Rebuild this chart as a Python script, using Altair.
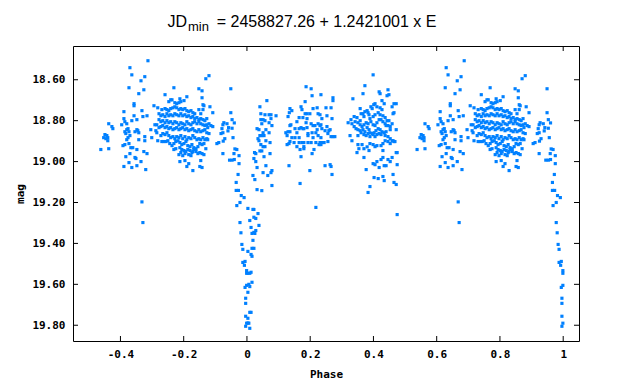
import altair as alt
import pandas as pd

# ---- text ----
title_jd = "JD"
title_sub = "min"
title_rest = "= 2458827.26 + 1.2421001 x E"
x_title = "Phase"
y_title = "mag"

# ---- axis ticks ----
x_ticks = [-0.4, -0.2, 0.0, 0.2, 0.4, 0.6, 0.8, 1.0]
y_ticks = [18.6, 18.8, 19.0, 19.2, 19.4, 19.6, 19.8]

# ---- data: (phase, mag), phase in [0, 1); phases >= 0.5 are also shown at phase-1 ----
egress = [(0.003,19.229),(0.019,19.234),(0.022,19.234),(0.035,19.254),(0.028,19.278),(0.022,19.272),
          (0.009,19.288),(0.038,19.312),(0.013,19.322),(0.028,19.337),(0.022,19.346),(0.016,19.351),
          (0.025,19.351),(0.019,19.385),(0.016,19.424),(0.022,19.424),(0.003,19.439),(0.013,19.454),
          (0.016,19.463),(0.003,19.546),(0.009,19.546),(0.013,19.541),(0.016,19.590),(0.006,19.600),
          (0.009,19.611),(0.003,19.639),(0.009,19.737),(0.013,19.737),(0.003,19.766),(0.003,19.789),
          (0.006,19.790),(0.009,19.815)]

rise = [(0.041,18.732),(0.063,18.702),(0.044,18.766),(0.057,18.771),(0.070,18.771),(0.076,18.771),
        (0.092,18.776),(0.051,18.795),(0.044,18.795),(0.057,18.800),(0.076,18.790),(0.047,18.815),
        (0.070,18.810),(0.079,18.824),(0.032,18.839),(0.038,18.844),(0.060,18.844),(0.051,18.859),
        (0.070,18.859),(0.041,18.873),(0.047,18.873),(0.054,18.873),(0.035,18.888),(0.038,18.898),
        (0.060,18.898),(0.073,18.907),(0.044,18.917),(0.051,18.927),(0.057,18.927),(0.041,18.948),
        (0.047,18.948),(0.024,18.956),(0.028,18.961),(0.073,18.961),(0.022,18.985),(0.054,18.976),
        (0.028,19.000),(0.060,19.020),(0.032,19.029),(0.051,19.054),(0.079,19.044),(0.076,19.054),
        (0.066,19.068),(0.019,19.068),(0.025,19.088),(0.079,19.117),(0.032,19.137),(0.047,19.142)]

plateau = [(0.187,18.634),(0.203,18.644),(0.234,18.673),(0.206,18.678),(0.272,18.688),(0.272,18.702),
           (0.184,18.707),(0.171,18.732),(0.174,18.746),(0.209,18.741),(0.222,18.737),(0.250,18.737),
           (0.266,18.737),(0.136,18.741),(0.142,18.751),(0.134,18.761),(0.184,18.766),(0.190,18.766),
           (0.199,18.766),(0.225,18.766),(0.231,18.771),(0.253,18.776),(0.130,18.780),(0.165,18.785),
           (0.177,18.785),(0.190,18.790),(0.237,18.790),(0.269,18.790),(0.158,18.805),(0.187,18.810),
           (0.203,18.815),(0.209,18.824),(0.215,18.824),(0.225,18.815),(0.231,18.824),(0.234,18.820),
           (0.253,18.829),(0.139,18.820),(0.136,18.824),(0.171,18.834),(0.177,18.839),(0.190,18.834),
           (0.152,18.839),(0.165,18.839),(0.180,18.839),(0.237,18.839),(0.222,18.844),(0.263,18.844),
           (0.247,18.849),(0.259,18.849),(0.123,18.859),(0.130,18.854),(0.136,18.854),(0.158,18.859),
           (0.193,18.863),(0.206,18.859),(0.218,18.859),(0.256,18.863),(0.266,18.878),(0.272,18.878),
           (0.278,18.878),(0.127,18.873),(0.142,18.883),(0.152,18.883),(0.165,18.883),(0.193,18.873),
           (0.209,18.883),(0.225,18.873),(0.234,18.883),(0.136,18.902),(0.149,18.907),(0.165,18.907),
           (0.174,18.907),(0.180,18.907),(0.193,18.907),(0.203,18.907),(0.218,18.907),(0.231,18.907),
           (0.237,18.907),(0.244,18.907),(0.256,18.902),(0.127,18.917),(0.133,18.912),(0.158,18.927),
           (0.180,18.927),(0.180,18.937),(0.228,18.917),(0.168,18.941),(0.212,18.941),(0.234,18.917),
           (0.206,18.961),(0.171,18.976),(0.133,19.020),(0.199,19.044),(0.247,19.020),(0.263,19.015),
           (0.266,19.024),(0.269,19.063),(0.168,19.107),(0.218,19.224)]

secondary = [(0.373,18.629),(0.367,18.668),(0.418,18.659),(0.421,18.668),(0.446,18.649),(0.443,18.678),
             (0.449,18.673),(0.335,18.693),(0.427,18.702),(0.434,18.717),(0.465,18.717),(0.472,18.717),
             (0.459,18.732),(0.401,18.722),(0.405,18.717),(0.358,18.741),(0.392,18.732),(0.396,18.741),
             (0.411,18.732),(0.421,18.737),(0.427,18.746),(0.373,18.756),(0.380,18.751),(0.383,18.761),
             (0.367,18.766),(0.361,18.766),(0.339,18.780),(0.348,18.785),(0.358,18.800),(0.370,18.780),
             (0.386,18.771),(0.389,18.790),(0.399,18.780),(0.405,18.771),(0.415,18.761),(0.421,18.771),
             (0.430,18.776),(0.437,18.785),(0.443,18.800),(0.449,18.800),(0.459,18.815),(0.462,18.766),
             (0.465,18.761),(0.320,18.810),(0.329,18.795),(0.332,18.815),(0.342,18.805),(0.351,18.810),
             (0.358,18.820),(0.364,18.829),(0.370,18.820),(0.377,18.810),(0.383,18.815),(0.392,18.805),
             (0.399,18.820),(0.405,18.824),(0.411,18.810),(0.418,18.795),(0.424,18.795),(0.430,18.805),
             (0.437,18.815),(0.440,18.824),(0.446,18.824),(0.453,18.829),(0.339,18.829),(0.345,18.839),
             (0.351,18.844),(0.358,18.849),(0.367,18.844),(0.373,18.854),(0.380,18.834),(0.386,18.844),
             (0.389,18.859),(0.396,18.863),(0.402,18.859),(0.408,18.849),(0.415,18.839),(0.421,18.844),
             (0.427,18.854),(0.434,18.859),(0.440,18.854),(0.453,18.844),(0.472,18.844),(0.326,18.873),
             (0.332,18.898),(0.351,18.873),(0.361,18.859),(0.370,18.868),(0.377,18.873),(0.383,18.863),
             (0.389,18.878),(0.399,18.868),(0.405,18.878),(0.411,18.868),(0.418,18.863),(0.424,18.868),
             (0.437,18.873),(0.446,18.878),(0.453,18.888),(0.459,18.898),(0.465,18.902),(0.468,18.902),
             (0.351,18.917),(0.354,18.937),(0.348,18.956),(0.364,18.917),(0.370,18.937),(0.380,18.928),
             (0.386,18.946),(0.389,18.912),(0.399,18.917),(0.405,18.927),(0.411,18.922),(0.424,18.922),
             (0.430,18.912),(0.437,18.898),(0.446,18.902),(0.453,18.912),(0.462,18.898),(0.430,18.946),
             (0.472,18.956),(0.475,18.956),(0.370,18.980),(0.399,19.010),(0.405,19.015),(0.411,19.000),
             (0.418,19.029),(0.424,18.990),(0.430,18.980),(0.434,19.020),(0.440,19.020),(0.446,18.990),
             (0.453,19.000),(0.459,18.980),(0.475,19.015),(0.377,19.039),(0.402,19.078),(0.415,19.083),
             (0.430,19.073),(0.434,19.093),(0.462,19.063),(0.465,19.102),(0.472,19.112),(0.389,19.122),
             (0.383,19.151),(0.475,19.259),(0.399,18.576)]

primary_outer = [(0.687,18.507),(0.630,18.541),(0.636,18.576),(0.677,18.585),(0.665,18.605),(0.627,18.639),
                 (0.674,18.649),(0.658,18.668),(0.769,18.639),(0.880,18.580),(0.870,18.595),(0.848,18.644),
                 (0.858,18.654),(0.741,18.673),(0.643,18.717),(0.643,18.727),(0.810,18.683),(0.788,18.693),
                 (0.763,18.698),(0.801,18.702),(0.668,18.751),(0.611,18.756),(0.706,18.727),(0.718,18.737),
                 (0.643,18.776),(0.684,18.776),(0.671,18.780),(0.563,18.815),(0.573,18.829),(0.576,18.839),
                 (0.611,18.790),(0.614,18.805),(0.620,18.815),(0.652,18.795),(0.636,18.800),(0.624,18.839),
                 (0.620,18.844),(0.614,18.854),(0.627,18.854),(0.630,18.873),(0.624,18.883),(0.620,18.893),
                 (0.604,18.820),(0.617,18.863),(0.652,18.844),(0.646,18.854),(0.658,18.859),(0.655,18.849),
                 (0.658,18.893),(0.677,18.878),(0.677,18.898),(0.696,18.844),(0.699,18.883),(0.551,18.868),
                 (0.557,18.873),(0.560,18.883),(0.554,18.888),(0.547,18.883),(0.560,18.898),(0.563,18.937),
                 (0.538,18.941),(0.608,18.922),(0.614,18.917),(0.627,18.912),(0.652,18.941),(0.633,18.932),
                 (0.639,18.932),(0.674,18.951),(0.684,18.961),(0.630,18.961),(0.617,18.976),(0.646,18.980),
                 (0.649,18.985),(0.665,19.000),(0.627,19.005),(0.611,19.024),(0.636,19.029),(0.652,19.020),
                 (0.680,19.039),(0.668,19.197),(0.671,19.298),(0.718,18.898)]

primary_core = [(0.753,18.707),(0.759,18.698),(0.772,18.712),(0.778,18.717),(0.785,18.712),(0.791,18.707),
                (0.731,18.746),(0.741,18.741),(0.747,18.746),(0.753,18.751),(0.759,18.741),(0.766,18.737),
                (0.772,18.732),(0.778,18.737),(0.785,18.746),(0.791,18.741),(0.797,18.746),(0.804,18.741),
                (0.810,18.751),(0.816,18.756),(0.823,18.751),(0.829,18.761),(0.835,18.766),(0.848,18.746),
                (0.854,18.766),(0.861,18.746),(0.864,18.727),(0.861,18.722),(0.858,18.688),(0.892,18.761),
                (0.883,18.732),(0.722,18.766),(0.728,18.776),(0.734,18.771),(0.741,18.780),(0.747,18.766),
                (0.753,18.776),(0.759,18.771),(0.766,18.776),(0.772,18.766),(0.778,18.771),(0.785,18.776),
                (0.791,18.766),(0.797,18.776),(0.804,18.771),(0.810,18.780),(0.816,18.776),(0.823,18.785),
                (0.829,18.780),(0.835,18.790),(0.842,18.785),(0.848,18.795),(0.854,18.790),(0.861,18.795),
                (0.867,18.800),(0.873,18.790),(0.722,18.795),(0.728,18.805),(0.734,18.800),(0.741,18.810),
                (0.747,18.800),(0.753,18.810),(0.759,18.805),(0.766,18.815),(0.772,18.805),(0.778,18.810),
                (0.785,18.820),(0.791,18.810),(0.797,18.815),(0.804,18.820),(0.810,18.805),(0.816,18.815),
                (0.823,18.820),(0.829,18.810),(0.835,18.805),(0.842,18.815),(0.848,18.805),(0.854,18.815),
                (0.861,18.820),(0.867,18.824),(0.873,18.820),(0.880,18.815),(0.886,18.824),(0.892,18.829),
                (0.715,18.820),(0.709,18.820),(0.712,18.849),(0.722,18.834),(0.728,18.829),(0.734,18.824),
                (0.741,18.834),(0.747,18.829),(0.753,18.839),(0.759,18.834),(0.766,18.844),(0.772,18.839),
                (0.778,18.834),(0.785,18.844),(0.791,18.839),(0.797,18.834),(0.804,18.844),(0.810,18.839),
                (0.816,18.849),(0.823,18.844),(0.829,18.839),(0.835,18.849),(0.842,18.854),(0.848,18.844),
                (0.854,18.854),(0.861,18.849),(0.867,18.844),(0.876,18.834),(0.880,18.863),(0.873,18.859),
                (0.715,18.859),(0.728,18.873),(0.734,18.863),(0.741,18.868),(0.747,18.859),(0.753,18.873),
                (0.759,18.883),(0.766,18.878),(0.772,18.888),(0.778,18.878),(0.785,18.883),(0.791,18.873),
                (0.797,18.888),(0.804,18.878),(0.810,18.893),(0.816,18.883),(0.823,18.888),(0.829,18.873),
                (0.835,18.883),(0.842,18.893),(0.848,18.888),(0.854,18.893),(0.861,18.883),(0.867,18.893),
                (0.873,18.888),(0.731,18.902),(0.737,18.902),(0.744,18.902),(0.750,18.898),(0.756,18.912),
                (0.763,18.922),(0.769,18.912),(0.775,18.902),(0.782,18.898),(0.788,18.907),(0.794,18.917),
                (0.801,18.912),(0.807,18.902),(0.813,18.922),(0.820,18.927),(0.826,18.917),(0.832,18.932),
                (0.839,18.937),(0.845,18.927),(0.851,18.912),(0.858,18.917),(0.864,18.912),(0.870,18.937),
                (0.876,18.893),(0.769,18.941),(0.775,18.937),(0.788,18.932),(0.794,18.941),(0.801,18.946),
                (0.807,18.951),(0.813,18.941),(0.820,18.946),(0.826,18.956),(0.832,18.941),(0.839,18.951),
                (0.845,18.961),(0.851,18.956),(0.858,18.961),(0.864,18.966),(0.785,18.966),(0.791,18.956),
                (0.797,18.971),(0.804,18.961),(0.816,18.966),(0.823,18.971),(0.829,18.951),(0.788,19.000),
                (0.804,18.995),(0.816,19.010),(0.810,19.024),(0.829,19.044),(0.854,18.995),(0.851,19.024),
                (0.858,19.029)]

ingress = [(0.905,18.912),(0.911,18.907),(0.918,18.863),(0.924,18.859),(0.921,18.839),(0.924,18.820),
           (0.927,18.810),(0.924,18.961),(0.949,18.644),(0.949,18.761),(0.953,18.795),(0.930,18.888),
           (0.925,18.900),(0.942,18.834),(0.940,18.850),(0.953,18.837),(0.960,18.811),(0.956,18.883),
           (0.937,18.815),(0.945,18.993),(0.953,18.993),(0.960,18.990),(0.962,18.938),(0.968,18.941),
           (0.959,18.961),(0.975,18.971),(0.975,19.010),(0.972,19.063),(0.966,19.102),(0.966,19.141),
           (0.973,19.141),(0.982,19.166),(0.991,19.176),(0.978,19.200),(0.968,19.215),(0.978,19.298),
           (0.981,19.348),(0.984,19.405),(0.987,19.429),(0.987,19.493),(0.994,19.488),(0.992,19.507),
           (0.999,19.533),(0.999,19.546),(0.999,19.605),(0.994,19.615),(0.996,19.668),(0.996,19.693),
           (0.996,19.756),(0.999,19.790),(0.996,19.805)]

segments = [egress, rise, plateau, secondary, primary_outer, primary_core, ingress]

rows = []
for seg in segments:
    for p, m in seg:
        rows.append({"phase": p, "mag": m})
        if p >= 0.5:
            rows.append({"phase": round(p - 1.0, 3), "mag": m})
df = pd.DataFrame(rows)

W, H = 506, 295
TICK = 5
MONO = "DejaVu Sans Mono"
SANS = "Liberation Sans, Arial"
BLUE = "#0080ff"

xs = alt.Scale(domain=[-0.55, 1.05], nice=False, zero=False)
ys = alt.Scale(domain=[18.435, 19.877], reverse=True, nice=False, zero=False)

x_axis = alt.Axis(values=x_ticks, title=x_title, grid=False, ticks=False, tickSize=0, domain=False,
                  labelExpr="datum.value < 0 ? '-' + format(-datum.value, '~g') : format(datum.value, '~g')",
                  labelFont=MONO, labelFontSize=11, labelFontWeight="bold", labelColor="black",
                  labelPadding=7, titleFont=MONO, titleFontSize=11, titleFontWeight="bold",
                  titleColor="black", titleX=W / 2, titleY=33, titleBaseline="middle", titleAlign="center")
y_axis = alt.Axis(values=y_ticks, title=y_title, format=".2f", grid=False, ticks=False, tickSize=0,
                  domain=False, labelFont=MONO, labelFontSize=11, labelFontWeight="bold",
                  labelColor="black", labelPadding=8, titleFont=MONO, titleFontSize=11,
                  titleFontWeight="bold", titleColor="black", titleX=-53, titleY=H / 2,
                  titleAngle=-90, titleAlign="center", titleBaseline="middle")

points = alt.Chart(df).mark_square(size=10, color=BLUE, opacity=1, strokeWidth=0).encode(
    x=alt.X("phase:Q", scale=xs, axis=x_axis),
    y=alt.Y("mag:Q", scale=ys, axis=y_axis),
)

xt = pd.DataFrame({"t": x_ticks})
yt = pd.DataFrame({"t": y_ticks})
rule_style = dict(color="black", strokeWidth=1)
tick_bottom = alt.Chart(xt).mark_rule(**rule_style).encode(
    x=alt.X("t:Q", scale=xs, axis=x_axis), y=alt.value(H), y2=alt.value(H - TICK))
tick_top = alt.Chart(xt).mark_rule(**rule_style).encode(
    x=alt.X("t:Q", scale=xs, axis=x_axis), y=alt.value(0), y2=alt.value(TICK))
tick_left = alt.Chart(yt).mark_rule(**rule_style).encode(
    y=alt.Y("t:Q", scale=ys, axis=y_axis), x=alt.value(0), x2=alt.value(TICK))
tick_right = alt.Chart(yt).mark_rule(**rule_style).encode(
    y=alt.Y("t:Q", scale=ys, axis=y_axis), x=alt.value(W), x2=alt.value(W - TICK))

one = pd.DataFrame({"k": [0]})
t_jd = alt.Chart(one).mark_text(text=title_jd, font=SANS, fontSize=16, align="left",
                                baseline="alphabetic", color="black").encode(
    x=alt.value(94.5), y=alt.value(-19))
t_sub = alt.Chart(one).mark_text(text=title_sub, font=SANS, fontSize=13, align="left",
                                 baseline="alphabetic", color="black").encode(
    x=alt.value(115), y=alt.value(-15))
t_rest = alt.Chart(one).mark_text(text=title_rest, font=SANS, fontSize=16, align="left",
                                  baseline="alphabetic", color="black").encode(
    x=alt.value(143.7), y=alt.value(-19))

chart = alt.layer(points, tick_bottom, tick_top, tick_left, tick_right, t_jd, t_sub, t_rest).properties(
    width=W, height=H,
    autosize=alt.AutoSizeParams(type="none"),
    padding={"left": 65, "top": 38, "right": 40, "bottom": 40},
    background="white",
).configure_view(stroke="black", strokeWidth=1)

chart.save("out.html", embed_options={"renderer": "svg", "actions": False})
